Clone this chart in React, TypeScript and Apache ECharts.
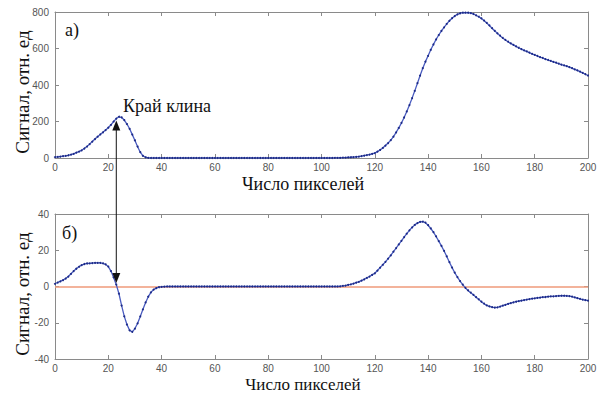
import React, { useEffect, useRef } from "react";
import * as echarts from "echarts";

// Pixel index 0..200
const PIXEL_COUNT = 201;

// (a) signal, rel. units, one value per pixel 0..200
const signalA: number[] = [
  5, 6, 8, 10, 12, 15, 19, 23, 29, 35,
  42, 52, 63, 76, 90, 104, 117, 129, 141, 153,
  166, 182, 200, 216, 226, 222, 208, 186, 160, 128,
  96, 62, 32, 12, 4, 1, 0, 0, 0, 0,
  0, 0, 0, 0, 0, 0, 0, 0, 0, 0,
  0, 0, 0, 0, 0, 0, 0, 0, 0, 0,
  0, 0, 0, 0, 0, 0, 0, 0, 0, 0,
  0, 0, 0, 0, 0, 0, 0, 0, 0, 0,
  0, 0, 0, 0, 0, 0, 0, 0, 0, 0,
  0, 0, 0, 0, 0, 0, 0, 0, 0, 0,
  0, 0, 0, 0, 0, 1, 1, 1, 2, 2,
  3, 4, 5, 6, 8, 10, 13, 16, 19, 23,
  27, 35, 44, 55, 68, 82, 98, 117, 140, 165,
  192, 222, 255, 290, 328, 368, 410, 452, 492, 528,
  560, 593, 622, 650, 674, 696, 716, 735, 752, 766,
  778, 787, 793, 796, 797, 796, 794, 789, 782, 774,
  765, 753, 740, 726, 711, 697, 683, 670, 658, 647,
  637, 628, 620, 612, 604, 597, 590, 584, 577, 571,
  565, 559, 553, 548, 542, 537, 532, 527, 522, 517,
  512, 508, 503, 498, 492, 486, 480, 473, 466, 459,
  452,
];

// (b) derivative signal, rel. units, one value per pixel 0..200
const signalB: number[] = [
  1.5, 2.2, 2.8, 3.5, 4.4, 5.5, 7, 8.5, 9.8, 10.9,
  11.8, 12.4, 12.7, 12.8, 12.9, 13, 13, 13, 12.8, 12.2,
  11, 8.5, 5, 1, -4, -10.5, -16.5, -21, -24.2, -25,
  -23.2, -20.3, -16.5, -12.6, -8.8, -5.6, -3.2, -1.7, -0.9, -0.4,
  -0.2, -0.1, 0, 0, 0, 0, 0, 0, 0, 0,
  0, 0, 0, 0, 0, 0, 0, 0, 0, 0,
  0, 0, 0, 0, 0, 0, 0, 0, 0, 0,
  0, 0, 0, 0, 0, 0, 0, 0, 0, 0,
  0, 0, 0, 0, 0, 0, 0, 0, 0, 0,
  0, 0, 0, 0, 0, 0, 0, 0, 0, 0,
  0, 0, 0, 0, 0, 0, 0, 0.1, 0.3, 0.5,
  0.9, 1.2, 1.6, 2.1, 2.6, 3.2, 3.9, 4.7, 5.5, 6.4,
  7.3, 8.8, 10.4, 12, 13.6, 15.4, 17.2, 19.2, 21.2, 23.2,
  25.2, 27.2, 29.2, 31, 32.6, 34, 35, 35.7, 35.8, 35.2,
  33.8, 32, 30, 27.6, 25, 22.4, 19.6, 16.6, 13.4, 10.4,
  7.6, 5.2, 3, 1, -0.8, -2.2, -3.4, -4.6, -5.9, -7.1,
  -8.4, -9.5, -10.4, -11, -11.4, -11.6, -11.5, -11.1, -10.6, -10.1,
  -9.6, -9.2, -8.8, -8.4, -8.1, -7.8, -7.5, -7.2, -7, -6.7,
  -6.5, -6.3, -6.1, -5.9, -5.8, -5.6, -5.5, -5.4, -5.3, -5.2,
  -5.1, -5.1, -5.2, -5.3, -5.6, -6, -6.4, -6.8, -7.2, -7.5,
  -7.8,
];

// axis settings
const xRange = { min: 0, max: 200, interval: 20 };
const yRangeA = { min: 0, max: 800, interval: 200 };
const yRangeB = { min: -40, max: 40, interval: 20 };

// annotation anchors (data space)
const arrowTop = [23, 205]; // on plot (a)
const arrowBottom = [23, 2]; // on plot (b)

const texts = {
  yTitle: "Сигнал, отн. ед",
  xTitle: "Число пикселей",
  labelA: "а)",
  labelB: "б)",
  edge: "Край клина",
};

const SERIF = "'Liberation Serif', 'Times New Roman', serif";
const SANS = "'Liberation Sans', Arial, sans-serif";

export default function App() {
  const ref = useRef<HTMLDivElement>(null);

  useEffect(() => {
    if (!ref.current) return;
    const chart = echarts.init(ref.current, null, { renderer: "svg" });

    const frameColor = "#8a8a8a";
    const lineStyle = { show: true, onZero: false, lineStyle: { color: frameColor, width: 1 } };
    const tick = { show: true, inside: true, length: 4, lineStyle: { color: frameColor } };
    const label = { show: true, color: "#555", fontSize: 10, fontFamily: SANS };

    const xAxis = (grid: number, pos: "bottom" | "top") => ({
      type: "value" as const,
      gridIndex: grid,
      position: pos,
      ...xRange,
      axisLine: lineStyle,
      axisTick: tick,
      axisLabel: pos === "bottom" ? { ...label, margin: 4 } : { show: false },
      splitLine: { show: false },
    });
    const yAxis = (grid: number, pos: "left" | "right", r: any) => ({
      type: "value" as const,
      gridIndex: grid,
      position: pos,
      ...r,
      axisLine: lineStyle,
      axisTick: tick,
      axisLabel: pos === "left" ? { ...label, margin: 6 } : { show: false },
      splitLine: { show: false },
    });

    const pairs = (arr: number[]) =>
      Array.from({ length: PIXEL_COUNT }, (_, i) => [i, arr[i]]);

    const lineSeries = (idx: number, data: number[][], extra: any = {}) => ({
      type: "line" as const,
      xAxisIndex: idx * 2,
      yAxisIndex: idx * 2,
      data,
      symbol: "circle",
      symbolSize: 2,
      showSymbol: true,
      itemStyle: { color: "#1c2a86" },
      lineStyle: { color: "#4a5cc0", width: 1.3 },
      z: 3,
      ...extra,
    });

    chart.setOption({
      animation: false,
      grid: [
        { left: 55, right: 12, top: 12, height: 146 },
        { left: 55, right: 12, top: 214, height: 145 },
      ],
      xAxis: [xAxis(0, "bottom"), xAxis(0, "top"), xAxis(1, "bottom"), xAxis(1, "top")],
      yAxis: [
        yAxis(0, "left", yRangeA),
        yAxis(0, "right", yRangeA),
        yAxis(1, "left", yRangeB),
        yAxis(1, "right", yRangeB),
      ],
      series: [
        lineSeries(0, pairs(signalA)),
        lineSeries(1, pairs(signalB), {
          markLine: {
            silent: true,
            symbol: "none",
            label: { show: false },
            lineStyle: { color: "#ef9a7a", width: 1.5, type: "solid" },
            data: [{ yAxis: 0 }],
            z: 1,
          },
        }),
      ],
    });

    const pTop = chart.convertToPixel({ gridIndex: 0 }, arrowTop) as number[];
    const pBot = chart.convertToPixel({ gridIndex: 1 }, arrowBottom) as number[];
    const ax = pTop[0];
    const ah = 10;
    const aw = 4;

    const titleStyle = { fill: "#111", fontFamily: SERIF, fontSize: 17, lineHeight: 15 };
    chart.setOption({
      graphic: [
        {
          type: "line",
          shape: { x1: ax, y1: pTop[1] + ah - 1, x2: ax, y2: pBot[1] - ah + 1 },
          style: { stroke: "#111", lineWidth: 1 },
          z: 10,
        },
        {
          type: "polygon",
          shape: { points: [[ax, pTop[1]], [ax - aw, pTop[1] + ah], [ax + aw, pTop[1] + ah]] },
          style: { fill: "#111" },
          z: 10,
        },
        {
          type: "polygon",
          shape: { points: [[ax, pBot[1]], [ax - aw, pBot[1] - ah], [ax + aw, pBot[1] - ah]] },
          style: { fill: "#111" },
          z: 10,
        },
        {
          type: "text",
          x: 123,
          y: 106,
          style: { text: texts.edge, fill: "#111", fontFamily: SERIF, fontSize: 18, verticalAlign: "middle" },
        },
        {
          type: "text",
          x: 65,
          y: 30,
          style: { text: texts.labelA, fill: "#111", fontFamily: SERIF, fontSize: 18, verticalAlign: "middle" },
        },
        {
          type: "text",
          x: 62,
          y: 233,
          style: { text: texts.labelB, fill: "#111", fontFamily: SERIF, fontSize: 18, verticalAlign: "middle" },
        },
        {
          type: "text",
          x: 303,
          y: 184,
          style: { ...titleStyle, fontSize: 18, text: texts.xTitle, align: "center", verticalAlign: "middle" },
        },
        {
          type: "text",
          x: 303,
          y: 384,
          style: { ...titleStyle, text: texts.xTitle, align: "center", verticalAlign: "middle" },
        },
        {
          type: "text",
          x: 22,
          y: 92,
          rotation: Math.PI / 2,
          style: { ...titleStyle, fontSize: 19, text: texts.yTitle, align: "center", verticalAlign: "middle" },
        },
        {
          type: "text",
          x: 22,
          y: 294,
          rotation: Math.PI / 2,
          style: { ...titleStyle, fontSize: 19, text: texts.yTitle, align: "center", verticalAlign: "middle" },
        },
      ],
    });

    return () => chart.dispose();
  }, []);

  return (
    <div
      ref={ref}
      style={{ position: "fixed", left: 0, top: 0, width: 600, height: 393, background: "#fff" }}
    />
  );
}
